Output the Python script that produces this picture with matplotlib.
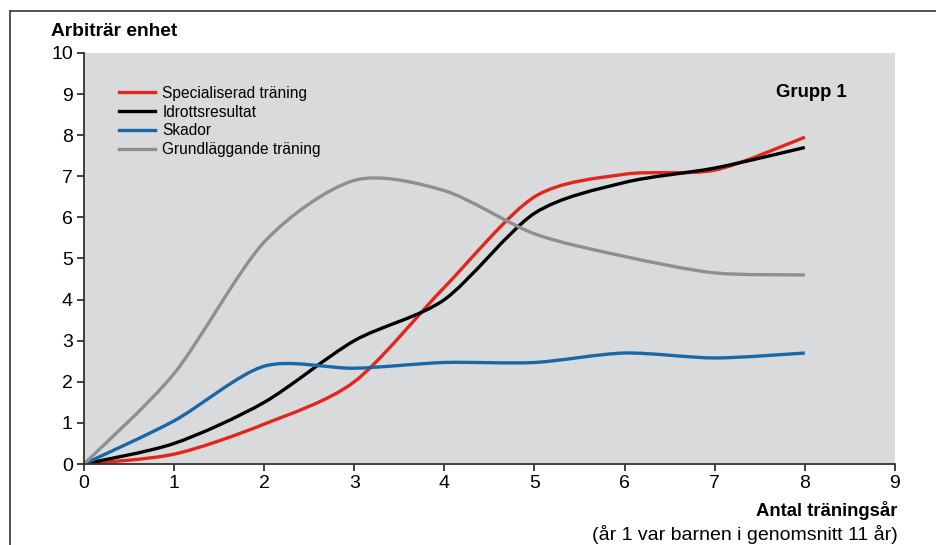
import matplotlib
matplotlib.use("Agg")
import matplotlib.pyplot as plt
from matplotlib.path import Path
from matplotlib.patches import PathPatch
from matplotlib.lines import Line2D
import numpy as np

plt.rcParams['font.family'] = ['Liberation Sans', 'DejaVu Sans']

ar = [0, 1, 2, 3, 4, 5, 6, 7, 8]
specialiserad = [0, 0.24, 0.97, 2.0, 4.3, 6.5, 7.05, 7.15, 7.95]
idrott = [0, 0.5, 1.5, 3.0, 4.0, 6.1, 6.85, 7.2, 7.7]
skador = [0, 1.05, 2.38, 2.33, 2.47, 2.47, 2.7, 2.58, 2.7]
grund = [0, 2.2, 5.4, 6.9, 6.65, 5.6, 5.05, 4.65, 4.6]

serier = [
    ("Specialiserad träning", specialiserad, "#e2261c"),
    ("Idrottsresultat", idrott, "#000000"),
    ("Skador", skador, "#1a67a6"),
    ("Grundläggande träning", grund, "#8f8f8f"),
]


def mjuk_kurva(x, y, k=0.14):
    # catmull-rom -> bezier, ritas av matplotlib i datakoordinater
    p = np.column_stack([x, y]).astype(float)
    verts = [p[0]]
    codes = [Path.MOVETO]
    n = len(p)
    for i in range(n - 1):
        p0 = p[i - 1] if i > 0 else p[i]
        p3 = p[i + 2] if i + 2 < n else p[i + 1]
        c1 = p[i] + (p[i + 1] - p0) * k
        c2 = p[i + 1] - (p3 - p[i]) * k
        verts += [c1, c2, p[i + 1]]
        codes += [Path.CURVE4] * 3
    return Path(verts, codes)


fig = plt.figure(figsize=(9.36, 5.45), dpi=100)
ax = fig.add_axes([0.0897, 0.1486, 0.8664, 0.7542])
ax.set_facecolor("#d9dadc")

for namn, y, farg in serier:
    patch = PathPatch(mjuk_kurva(ar, y), facecolor="none", edgecolor=farg,
                      lw=2.4, capstyle="butt", joinstyle="round")
    ax.add_patch(patch)
    ax.plot([], [], color=farg, lw=2.4, label=namn)

ax.set_xlim(0, 9)
ax.set_ylim(0, 10)
ax.set_xticks(range(0, 10))
ax.set_yticks(range(0, 11))
for s in ["top", "right"]:
    ax.spines[s].set_visible(False)
for s in ["left", "bottom"]:
    ax.spines[s].set_color("#333333")
    ax.spines[s].set_linewidth(1.3)
ax.tick_params(direction="out", length=5, width=1.3, color="#333333",
               labelsize=14, pad=3)

ax.legend(loc="upper left", bbox_to_anchor=(0.043, 0.92), frameon=False,
          fontsize=11.2, handlelength=2.3, handletextpad=0.5, labelspacing=0.24,
          borderaxespad=0, borderpad=0)

ax.text(0.94, 0.905, "Grupp 1", transform=ax.transAxes, ha="right", va="center",
        fontsize=13.3, fontweight="bold")

fig.text(51 / 936, 1 - 31 / 545, "Arbiträr enhet", ha="left", va="center",
         fontsize=13.8, fontweight="bold")
fig.text(898 / 936, 1 - 510 / 545, "Antal träningsår", ha="right", va="center",
         fontsize=13.3, fontweight="bold")
fig.text(898 / 936, 1 - 535 / 545, "(år 1 var barnen i genomsnitt 11 år)",
         ha="right", va="center", fontsize=14)

# ram runt figuren
fig.add_artist(Line2D([10 / 936, 10 / 936], [0, 1 - 11 / 545],
                      transform=fig.transFigure, color="#444444", lw=1.3))
fig.add_artist(Line2D([10 / 936, 1], [1 - 11 / 545, 1 - 11 / 545],
                      transform=fig.transFigure, color="#444444", lw=1.3))

fig.savefig("out.png", dpi=100)
